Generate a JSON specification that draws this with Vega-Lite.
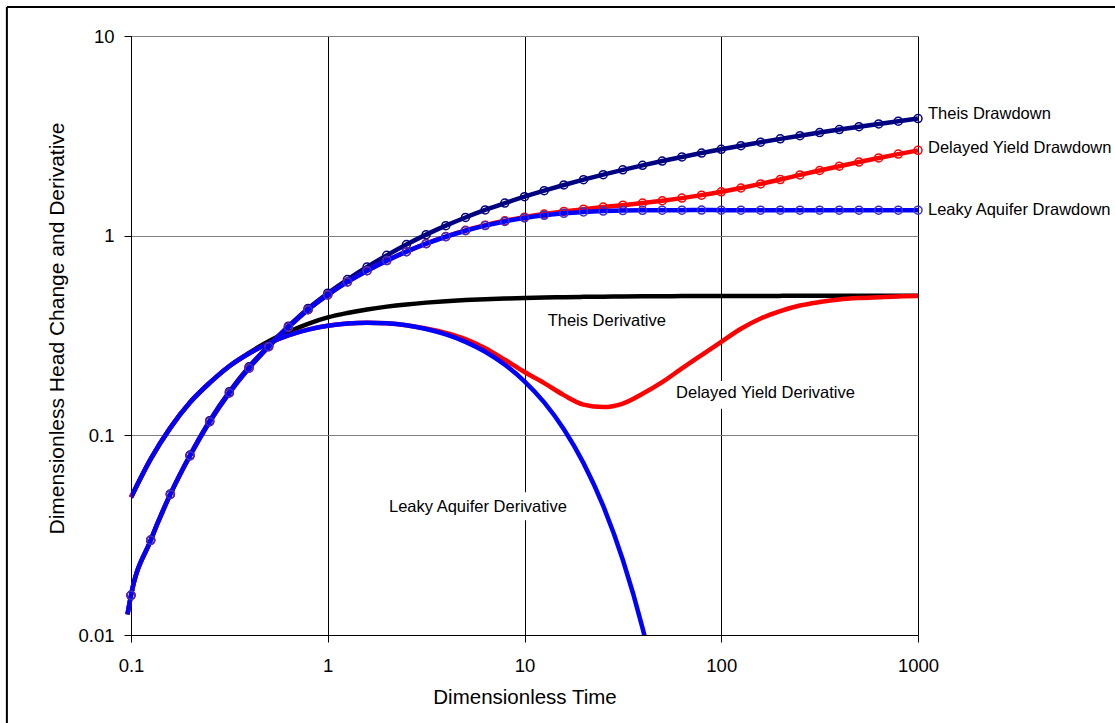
{
  "$schema": "https://vega.github.io/schema/vega-lite/v6.json",
  "width": 787,
  "height": 599,
  "autosize": "none",
  "padding": {"left": 131, "top": 36, "right": 197, "bottom": 88},
  "background": "white",
  "config": {
    "font": "Liberation Sans",
    "view": {"stroke": "#808080", "strokeWidth": 1},
    "axis": {
      "domainColor": "#000000",
      "domainWidth": 1,
      "tickColor": "#000000",
      "tickSize": 7,
      "labelFontSize": 18.5,
      "labelColor": "#000000",
      "titleFontSize": 20.5,
      "titleFontWeight": "normal",
      "titleColor": "#000000",
      "gridWidth": 1
    }
  },
  "datasets": {
    "frameLeft": [{"t": 0.0234, "v": 13.96, "v2": 0.00001}],
    "frameTop": [{"t": 0.0234, "t2": 1000000, "v": 13.96}],
    "labelBoxes": [
      {"t": 57.8, "t2": 507.6, "v": 0.1873, "v2": 0.1357},
      {"t": 1.932, "t2": 17.23, "v": 0.0519, "v2": 0.0376}
    ],
    "theisDD": [
      {"t": 0.096, "v": 0.0127}, {"t": 0.1, "v": 0.0158}, {"t": 0.1259, "v": 0.0299}, {"t": 0.1585, "v": 0.0509},
      {"t": 0.1995, "v": 0.0797}, {"t": 0.2512, "v": 0.1184}, {"t": 0.3162, "v": 0.1654}, {"t": 0.3981, "v": 0.2205},
      {"t": 0.5012, "v": 0.2818}, {"t": 0.631, "v": 0.352}, {"t": 0.7943, "v": 0.432}, {"t": 1, "v": 0.515},
      {"t": 1.259, "v": 0.603}, {"t": 1.585, "v": 0.697}, {"t": 1.995, "v": 0.797}, {"t": 2.512, "v": 0.903},
      {"t": 3.162, "v": 1.012}, {"t": 3.981, "v": 1.1225}, {"t": 5.012, "v": 1.2335}, {"t": 6.31, "v": 1.345},
      {"t": 7.943, "v": 1.456}, {"t": 10, "v": 1.5683}, {"t": 12.59, "v": 1.6809}, {"t": 15.85, "v": 1.7941},
      {"t": 19.95, "v": 1.9076}, {"t": 25.12, "v": 2.0214}, {"t": 31.62, "v": 2.1356}, {"t": 39.81, "v": 2.2499},
      {"t": 50.12, "v": 2.3644}, {"t": 63.1, "v": 2.479}, {"t": 79.43, "v": 2.5938}, {"t": 100, "v": 2.7084},
      {"t": 125.9, "v": 2.8233}, {"t": 158.5, "v": 2.9383}, {"t": 199.5, "v": 3.0533}, {"t": 251.2, "v": 3.1683},
      {"t": 316.2, "v": 3.2833}, {"t": 398.1, "v": 3.3984}, {"t": 501.2, "v": 3.5135}, {"t": 631, "v": 3.6286},
      {"t": 794.3, "v": 3.7437}, {"t": 1000, "v": 3.8586}
    ],
    "dyDD": [
      {"t": 0.096, "v": 0.0127}, {"t": 0.1, "v": 0.0158}, {"t": 0.1259, "v": 0.0298}, {"t": 0.1585, "v": 0.0506},
      {"t": 0.1995, "v": 0.079}, {"t": 0.2512, "v": 0.117}, {"t": 0.3162, "v": 0.163}, {"t": 0.3981, "v": 0.217},
      {"t": 0.5012, "v": 0.278}, {"t": 0.631, "v": 0.348}, {"t": 0.7943, "v": 0.426}, {"t": 1, "v": 0.505},
      {"t": 1.259, "v": 0.5865}, {"t": 1.585, "v": 0.668}, {"t": 1.995, "v": 0.75}, {"t": 2.512, "v": 0.8317},
      {"t": 3.162, "v": 0.913}, {"t": 3.981, "v": 0.99}, {"t": 5.012, "v": 1.063}, {"t": 6.31, "v": 1.129},
      {"t": 7.943, "v": 1.187}, {"t": 10, "v": 1.238}, {"t": 12.59, "v": 1.283}, {"t": 15.85, "v": 1.323},
      {"t": 19.95, "v": 1.358}, {"t": 25.12, "v": 1.39}, {"t": 31.62, "v": 1.422}, {"t": 39.81, "v": 1.457},
      {"t": 50.12, "v": 1.496}, {"t": 63.1, "v": 1.542}, {"t": 79.43, "v": 1.596}, {"t": 100, "v": 1.659},
      {"t": 125.9, "v": 1.733}, {"t": 158.5, "v": 1.817}, {"t": 199.5, "v": 1.91}, {"t": 251.2, "v": 2.015},
      {"t": 316.2, "v": 2.12}, {"t": 398.1, "v": 2.228}, {"t": 501.2, "v": 2.338}, {"t": 631, "v": 2.45},
      {"t": 794.3, "v": 2.562}, {"t": 1000, "v": 2.675}
    ],
    "leakyDD": [
      {"t": 0.096, "v": 0.0127}, {"t": 0.1, "v": 0.0158}, {"t": 0.1259, "v": 0.0298}, {"t": 0.1585, "v": 0.0506},
      {"t": 0.1995, "v": 0.079}, {"t": 0.2512, "v": 0.117}, {"t": 0.3162, "v": 0.163}, {"t": 0.3981, "v": 0.217},
      {"t": 0.5012, "v": 0.278}, {"t": 0.631, "v": 0.348}, {"t": 0.7943, "v": 0.426}, {"t": 1, "v": 0.505},
      {"t": 1.259, "v": 0.5865}, {"t": 1.585, "v": 0.668}, {"t": 1.995, "v": 0.75}, {"t": 2.512, "v": 0.8317},
      {"t": 3.162, "v": 0.9116}, {"t": 3.981, "v": 0.9876}, {"t": 5.012, "v": 1.0585}, {"t": 6.31, "v": 1.1229},
      {"t": 7.943, "v": 1.1786}, {"t": 10, "v": 1.2265}, {"t": 12.59, "v": 1.2648}, {"t": 15.85, "v": 1.2941},
      {"t": 19.95, "v": 1.3148}, {"t": 25.12, "v": 1.3282}, {"t": 31.62, "v": 1.3361}, {"t": 39.81, "v": 1.3401},
      {"t": 50.12, "v": 1.3418}, {"t": 63.1, "v": 1.3424}, {"t": 79.43, "v": 1.3426}, {"t": 100, "v": 1.3425},
      {"t": 125.9, "v": 1.3425}, {"t": 158.5, "v": 1.3425}, {"t": 199.5, "v": 1.3425}, {"t": 251.2, "v": 1.3425},
      {"t": 316.2, "v": 1.3425}, {"t": 398.1, "v": 1.3425}, {"t": 501.2, "v": 1.3425}, {"t": 631, "v": 1.3425},
      {"t": 794.3, "v": 1.3425}, {"t": 1000, "v": 1.3425}
    ],
    "theisDer": [
      {"t": 0.1, "v": 0.049}, {"t": 0.1259, "v": 0.0763}, {"t": 0.1585, "v": 0.1095}, {"t": 0.1995, "v": 0.1465},
      {"t": 0.2512, "v": 0.1835}, {"t": 0.3162, "v": 0.2225}, {"t": 0.3981, "v": 0.259}, {"t": 0.5012, "v": 0.296},
      {"t": 0.631, "v": 0.33}, {"t": 0.7943, "v": 0.362}, {"t": 1, "v": 0.3894}, {"t": 1.259, "v": 0.4099},
      {"t": 1.585, "v": 0.4271}, {"t": 1.995, "v": 0.4411}, {"t": 2.512, "v": 0.4526}, {"t": 3.162, "v": 0.462},
      {"t": 3.981, "v": 0.4696}, {"t": 5.012, "v": 0.4757}, {"t": 6.31, "v": 0.4806}, {"t": 7.943, "v": 0.4845},
      {"t": 10, "v": 0.4877}, {"t": 12.59, "v": 0.4902}, {"t": 15.85, "v": 0.4922}, {"t": 19.95, "v": 0.4938},
      {"t": 25.12, "v": 0.495}, {"t": 31.62, "v": 0.4961}, {"t": 39.81, "v": 0.4969}, {"t": 50.12, "v": 0.4975},
      {"t": 63.1, "v": 0.498}, {"t": 79.43, "v": 0.4984}, {"t": 100, "v": 0.4988}, {"t": 125.9, "v": 0.499},
      {"t": 158.5, "v": 0.4992}, {"t": 199.5, "v": 0.4994}, {"t": 251.2, "v": 0.4995}, {"t": 316.2, "v": 0.4996},
      {"t": 398.1, "v": 0.4997}, {"t": 501.2, "v": 0.4998}, {"t": 631, "v": 0.4998}, {"t": 794.3, "v": 0.4998},
      {"t": 1000, "v": 0.4999}
    ],
    "dyDer": [
      {"t": 0.1, "v": 0.0488}, {"t": 0.1259, "v": 0.076}, {"t": 0.1585, "v": 0.109}, {"t": 0.1995, "v": 0.146},
      {"t": 0.2512, "v": 0.183}, {"t": 0.3162, "v": 0.222}, {"t": 0.3981, "v": 0.257}, {"t": 0.5012, "v": 0.2893},
      {"t": 0.631, "v": 0.3167}, {"t": 0.7943, "v": 0.3382}, {"t": 1, "v": 0.3537}, {"t": 1.259, "v": 0.3632},
      {"t": 1.585, "v": 0.3667}, {"t": 1.995, "v": 0.3642}, {"t": 2.512, "v": 0.356}, {"t": 3.162, "v": 0.3425},
      {"t": 3.981, "v": 0.3255}, {"t": 5.012, "v": 0.303}, {"t": 6.31, "v": 0.273}, {"t": 7.943, "v": 0.239},
      {"t": 10, "v": 0.2075}, {"t": 12.59, "v": 0.1826}, {"t": 15.85, "v": 0.159}, {"t": 19.95, "v": 0.1425},
      {"t": 25.12, "v": 0.1385}, {"t": 31.62, "v": 0.1442}, {"t": 39.81, "v": 0.1615}, {"t": 50.12, "v": 0.1846},
      {"t": 63.1, "v": 0.2163}, {"t": 79.43, "v": 0.2523}, {"t": 100, "v": 0.294}, {"t": 125.9, "v": 0.342},
      {"t": 158.5, "v": 0.385}, {"t": 199.5, "v": 0.419}, {"t": 251.2, "v": 0.447}, {"t": 316.2, "v": 0.465},
      {"t": 398.1, "v": 0.479}, {"t": 501.2, "v": 0.487}, {"t": 631, "v": 0.492}, {"t": 794.3, "v": 0.4965},
      {"t": 1000, "v": 0.498}
    ],
    "leakyDer": [
      {"t": 0.1, "v": 0.0488}, {"t": 0.1259, "v": 0.076}, {"t": 0.1585, "v": 0.109}, {"t": 0.1995, "v": 0.146},
      {"t": 0.2512, "v": 0.183}, {"t": 0.3162, "v": 0.222}, {"t": 0.3981, "v": 0.257}, {"t": 0.5012, "v": 0.2893},
      {"t": 0.631, "v": 0.3167}, {"t": 0.7943, "v": 0.3382}, {"t": 1, "v": 0.3537}, {"t": 1.259, "v": 0.3632},
      {"t": 1.585, "v": 0.3667}, {"t": 1.995, "v": 0.3642}, {"t": 2.512, "v": 0.3556}, {"t": 3.162, "v": 0.3409},
      {"t": 3.981, "v": 0.3203}, {"t": 5.012, "v": 0.2939}, {"t": 6.31, "v": 0.2621}, {"t": 7.943, "v": 0.2258},
      {"t": 10, "v": 0.1865}, {"t": 12.59, "v": 0.1462}, {"t": 15.85, "v": 0.1073}, {"t": 19.95, "v": 0.0726},
      {"t": 25.12, "v": 0.0443}, {"t": 31.62, "v": 0.02376}, {"t": 39.81, "v": 0.01083}, {"t": 50.12, "v": 0.00403}
    ],
    "labelsRight": [
      {"t": 1124, "v": 3.83, "label": "Theis Drawdown"},
      {"t": 1124, "v": 2.592, "label": "Delayed Yield Drawdown"},
      {"t": 1124, "v": 1.274, "label": "Leaky Aquifer Drawdown"}
    ],
    "labelsIn": [
      {"t": 26.2, "v": 0.351, "label": "Theis Derivative"},
      {"t": 167.9, "v": 0.153, "label": "Delayed Yield Derivative"},
      {"t": 5.8, "v": 0.0412, "label": "Leaky Aquifer Derivative"}
    ]
  },
  "encoding": {
    "x": {
      "field": "t",
      "type": "quantitative",
      "scale": {"type": "log", "domain": [0.1, 1000], "nice": false},
      "axis": {
        "title": "Dimensionless Time",
        "values": [0.1, 1, 10, 100, 1000],
        "format": "~g",
        "grid": true,
        "gridColor": "#000000",
        "labelPadding": 14,
        "titlePadding": 13,
        "labelFlush": false
      }
    },
    "y": {
      "field": "v",
      "type": "quantitative",
      "scale": {"type": "log", "domain": [0.01, 10], "nice": false},
      "axis": {
        "title": "Dimensionless Head Change and Derivative",
        "values": [0.01, 0.1, 1, 10],
        "format": "~g",
        "grid": true,
        "gridColor": "#808080",
        "labelPadding": 10,
        "titlePadding": 10,
        "titleFontSize": 21,
        "titleY": 292,
        "labelFlush": false
      }
    }
  },
  "layer": [
    {
      "data": {"name": "frameLeft"},
      "mark": {"type": "rule", "color": "#000000", "strokeWidth": 2, "clip": false},
      "encoding": {"y2": {"field": "v2"}}
    },
    {
      "data": {"name": "frameTop"},
      "mark": {"type": "rule", "color": "#000000", "strokeWidth": 2, "clip": false},
      "encoding": {"x2": {"field": "t2"}}
    },
    {
      "data": {"name": "labelBoxes"},
      "mark": {"type": "rect", "fill": "#ffffff", "strokeWidth": 0},
      "encoding": {"x2": {"field": "t2"}, "y2": {"field": "v2"}}
    },
    {"data": {"name": "theisDer"}, "mark": {"type": "line", "color": "#000000", "strokeWidth": 4.5, "interpolate": "monotone"}},
    {"data": {"name": "dyDer"}, "mark": {"type": "line", "color": "#ff0000", "strokeWidth": 4.5, "interpolate": "monotone"}},
    {"data": {"name": "leakyDer"}, "mark": {"type": "line", "color": "#0000ff", "strokeWidth": 4.5, "interpolate": "monotone", "clip": true}},
    {"data": {"name": "theisDD"}, "mark": {"type": "line", "color": "#000080", "strokeWidth": 4.5, "interpolate": "monotone"}},
    {"data": {"name": "theisDD"}, "transform": [{"filter": {"field": "t", "gte": 0.1}}], "mark": {"type": "point", "shape": "circle", "filled": false, "stroke": "#000080", "strokeWidth": 1.5, "size": 64, "opacity": 1}},
    {"data": {"name": "dyDD"}, "mark": {"type": "line", "color": "#ff0000", "strokeWidth": 4.5, "interpolate": "monotone"}},
    {"data": {"name": "dyDD"}, "transform": [{"filter": {"field": "t", "gte": 0.1}}], "mark": {"type": "point", "shape": "circle", "filled": false, "stroke": "#ff0000", "strokeWidth": 1.5, "size": 64, "opacity": 1}},
    {"data": {"name": "leakyDD"}, "mark": {"type": "line", "color": "#0000ff", "strokeWidth": 4.5, "interpolate": "monotone"}},
    {"data": {"name": "leakyDD"}, "transform": [{"filter": {"field": "t", "gte": 0.1}}], "mark": {"type": "point", "shape": "circle", "filled": false, "stroke": "#3a2fc8", "strokeWidth": 1.5, "size": 64, "opacity": 1}},
    {"data": {"name": "labelsRight"}, "mark": {"type": "text", "align": "left", "baseline": "alphabetic", "fontSize": 16.5, "color": "#000000"}, "encoding": {"text": {"field": "label"}}},
    {"data": {"name": "labelsIn"}, "mark": {"type": "text", "align": "center", "baseline": "alphabetic", "fontSize": 16.5, "color": "#000000"}, "encoding": {"text": {"field": "label"}}}
  ]
}
